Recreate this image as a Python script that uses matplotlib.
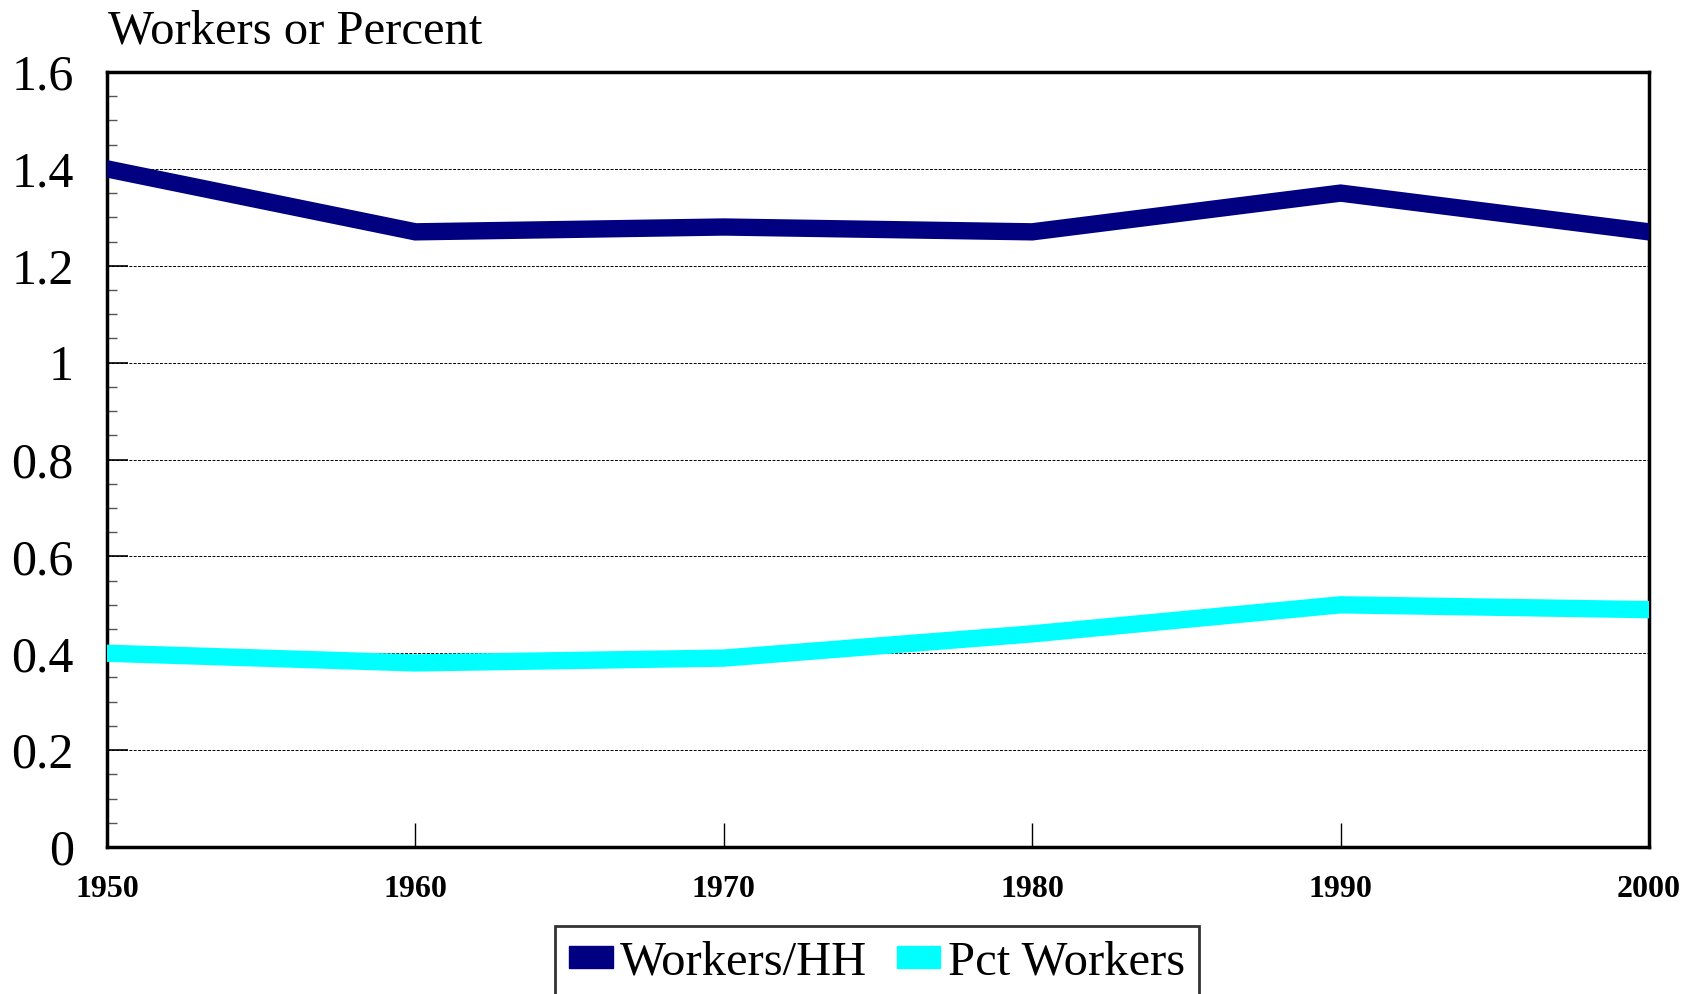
import numpy as np
import matplotlib.pyplot as plt
from matplotlib.patches import Patch
from matplotlib.ticker import MultipleLocator

# Datos
years = [1950, 1960, 1970, 1980, 1990, 2000]
workers_hh = [1.40, 1.27, 1.28, 1.27, 1.35, 1.27]
pct_workers = [0.40, 0.38, 0.39, 0.44, 0.50, 0.49]
series_names = ['Workers/HH', 'Pct Workers']
series_colors = ['#000080', '#00FFFF']

plt.rcParams['font.family'] = ['Liberation Serif', 'DejaVu Serif']

W, H = 1684, 994
fig = plt.figure(figsize=(W / 100, H / 100), dpi=100)
ax = fig.add_axes([107 / W, 1 - 847 / H, (1649 - 107) / W, (847 - 72) / H])

ax.plot(years, workers_hh, color=series_colors[0], lw=12.5, solid_joinstyle='miter', zorder=3)
ax.plot(years, pct_workers, color=series_colors[1], lw=12.5, solid_joinstyle='miter', zorder=3)

ax.set_xlim(1950, 2000)
ax.set_ylim(0, 1.6)
ax.set_xticks(years)
ax.set_xticklabels([str(y) for y in years], fontsize=23, fontweight='bold')
ax.yaxis.set_major_locator(MultipleLocator(0.2))
ax.yaxis.set_minor_locator(MultipleLocator(0.05))
ax.set_yticks(np.arange(0, 1.61, 0.2))
ax.set_yticklabels(['0', '0.2', '0.4', '0.6', '0.8', '1', '1.2', '1.4', '1.6'], fontsize=36)

ax.tick_params(axis='y', which='major', direction='in', length=15, width=1.2, pad=24)
ax.tick_params(axis='y', which='minor', direction='in', length=7.5, width=1.0, color='#555555')
ax.tick_params(axis='x', which='major', direction='in', length=17, width=1.0, pad=20)

for y in np.arange(0.2, 1.5, 0.2):
    ax.axhline(y, color='black', lw=0.7, ls=(0, (3, 1.5)), zorder=1)

for s in ax.spines.values():
    s.set_linewidth(2.5)

fig.text(108 / W, 1 - 44 / H, 'Workers or Percent', fontsize=35, ha='left', va='baseline')

handles = [Patch(facecolor=c, edgecolor=c) for c in series_colors]
leg = fig.legend(handles, series_names, loc='upper center', bbox_to_anchor=(877 / W, 1 - 926 / H),
                 ncol=2, fontsize=35, frameon=True, fancybox=False, edgecolor='black',
                 handlelength=0.9, handleheight=0.33, handletextpad=0.15, columnspacing=0.6,
                 borderpad=0.3, borderaxespad=0)
leg.get_frame().set_linewidth(2)

fig.savefig('out.png', dpi=100)
